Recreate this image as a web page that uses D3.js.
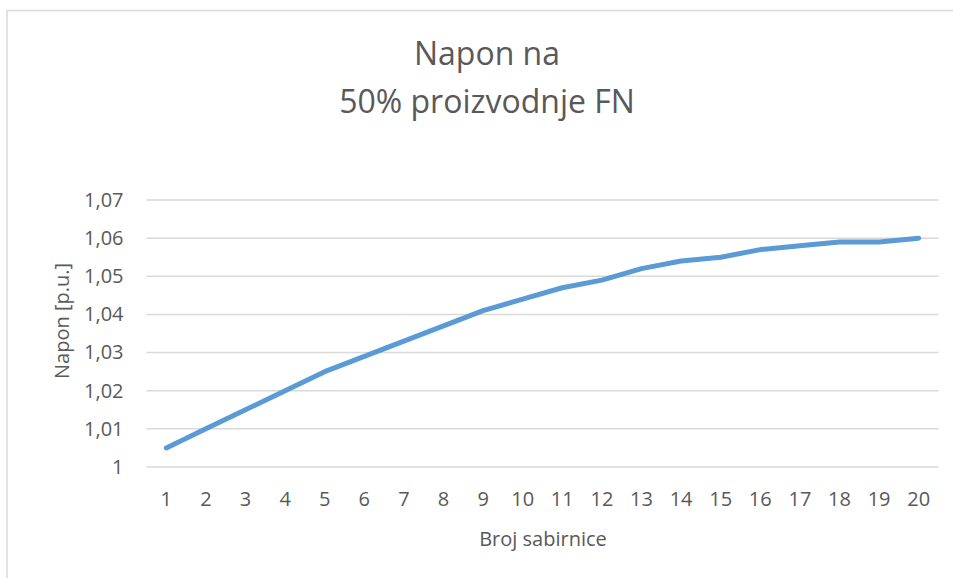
<!DOCTYPE html>
<html>
<head lang="en">
  <title>Napon na 50% proizvodnje FN</title>
  <script src="https://d3js.org/d3.v7.min.js" charset="utf-8"></script>
  <style>
    body { margin: 0; background: #fff; }
    text { font-family: "Open Sans", sans-serif; fill: #595959; }
  </style>
</head>
<body>
  <script>
    // data
    var buses = d3.range(1, 21);
    var voltage = [1.005, 1.010, 1.015, 1.020, 1.025, 1.029, 1.033, 1.037, 1.041, 1.044,
                   1.047, 1.049, 1.052, 1.054, 1.055, 1.057, 1.058, 1.059, 1.059, 1.060];
    var yTicks = [1, 1.01, 1.02, 1.03, 1.04, 1.05, 1.06, 1.07];
    var titleLines = ["Napon na", "50% proizvodnje FN"];

    var width = 953;
    var height = 578;
    var plot = { left: 146.5, right: 938.5, top: 200, bottom: 467 };

    var svg = d3.select("body")
      .append("svg")
      .attr("width", width)
      .attr("height", height);

    // chart frame (cut off on the right and bottom)
    svg.append("rect")
      .attr("x", 7)
      .attr("y", 10.5)
      .attr("width", 980)
      .attr("height", 600)
      .style("fill", "none")
      .style("stroke", "#d9d9d9")
      .style("stroke-width", 1.5);

    var x = d3.scaleBand()
      .domain(buses)
      .range([plot.left, plot.right]);

    var y = d3.scaleLinear()
      .domain([1, 1.07])
      .range([plot.bottom, plot.top]);

    // gridlines
    svg.append("g")
        .attr("class", "grid")
      .selectAll("line")
        .data(yTicks)
      .enter().append("line")
        .attr("x1", plot.left)
        .attr("x2", plot.right)
        .attr("y1", function(d) { return y(d); })
        .attr("y2", function(d) { return y(d); })
        .style("stroke", "#d9d9d9")
        .style("stroke-width", 1.5);

    var fmt = function(d) { return d === 1 ? "1" : d3.format(".2f")(d).replace(".", ","); };

    var yAxis = svg.append("g")
      .attr("transform", "translate(" + plot.left + ",0)")
      .call(d3.axisLeft(y).tickValues(yTicks).tickFormat(fmt).tickSize(0).tickPadding(23));
    yAxis.select(".domain").remove();
    yAxis.selectAll("text")
      .style("font-size", "20px")
      .style("fill", "#595959")
      .style("font-family", "Open Sans, sans-serif");

    var xAxis = svg.append("g")
      .attr("transform", "translate(0," + plot.bottom + ")")
      .call(d3.axisBottom(x).tickSize(0).tickPadding(25));
    xAxis.select(".domain").remove();
    xAxis.selectAll("text")
      .style("font-size", "20px")
      .style("fill", "#595959")
      .style("font-family", "Open Sans, sans-serif");

    // the line
    var line = d3.line()
      .x(function(d, i) { return x(buses[i]) + x.bandwidth() / 2; })
      .y(function(d) { return y(d); });

    svg.append("path")
      .datum(voltage)
      .attr("d", line)
      .style("fill", "none")
      .style("stroke", "#5b9bd5")
      .style("stroke-width", 5)
      .style("stroke-linecap", "round")
      .style("stroke-linejoin", "round");

    // titles
    svg.append("g")
      .selectAll("text")
        .data(titleLines)
      .enter().append("text")
        .attr("x", 487)
        .attr("y", function(d, i) { return 65 + i * 48; })
        .attr("text-anchor", "middle")
        .style("font-size", "32px")
        .text(function(d) { return d; });

    svg.append("text")
      .attr("x", 543)
      .attr("y", 546)
      .attr("text-anchor", "middle")
      .style("font-size", "20px")
      .text("Broj sabirnice");

    svg.append("text")
      .attr("transform", "translate(69,321) rotate(-90)")
      .attr("text-anchor", "middle")
      .style("font-size", "20px")
      .text("Napon [p.u.]");
  </script>
</body>
</html>
